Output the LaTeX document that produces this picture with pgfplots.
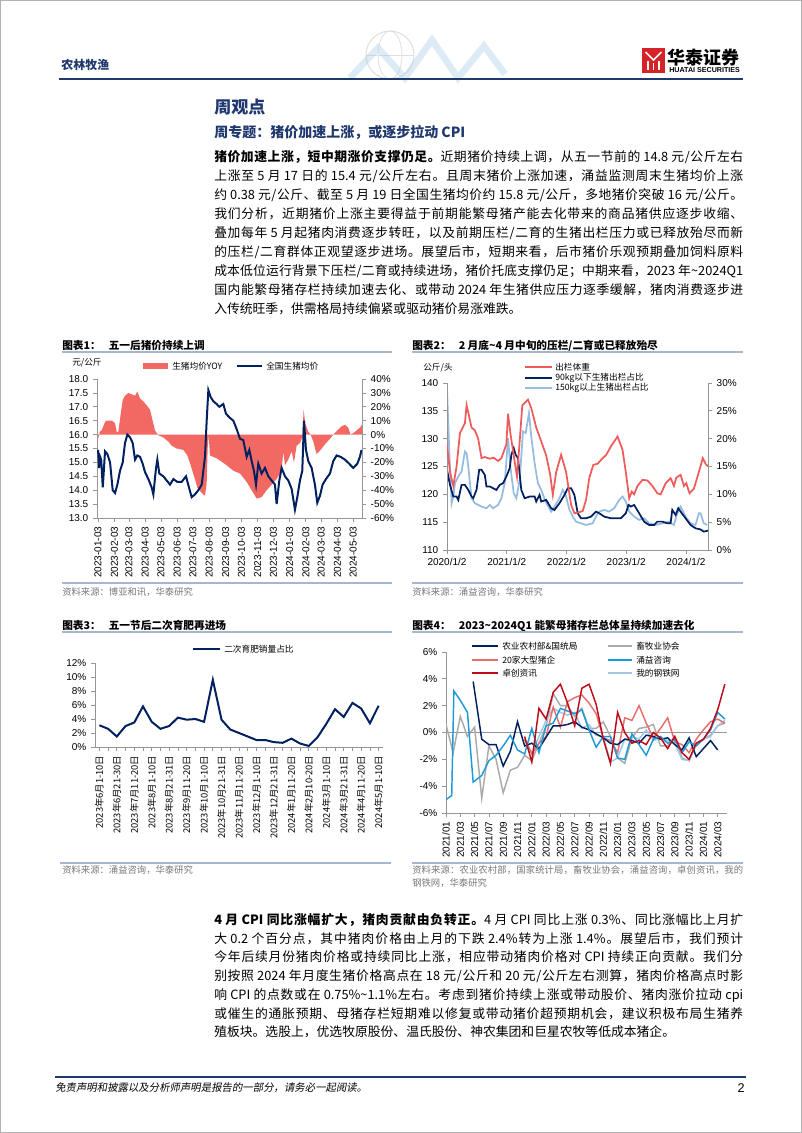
\documentclass[border=0pt]{standalone}
\usepackage{fontspec}
\usepackage{graphicx}
\usepackage{pgfplots}
\pgfplotsset{compat=1.18}
\setmainfont{Noto Sans CJK SC}
\newfontfamily\arial{Liberation Sans}
\newfontfamily\slcjk{Noto Sans CJK SC}[FakeSlant=0.18]

\definecolor{navy}{RGB}{0,32,96}
\definecolor{hdrblue}{RGB}{31,56,110}
\definecolor{axgray}{RGB}{150,150,150}
\definecolor{yoyred}{RGB}{242,105,100}
\definecolor{c2red}{RGB}{240,90,90}
\definecolor{c2lb}{RGB}{150,188,225}
\definecolor{c4gray}{RGB}{170,170,170}
\definecolor{c4salmon}{RGB}{232,110,110}
\definecolor{c4blue}{RGB}{30,155,215}
\definecolor{c4dred}{RGB}{190,10,25}
\definecolor{c4lb}{RGB}{160,200,230}
\definecolor{ulblue}{RGB}{165,182,205}
\definecolor{srcgray}{RGB}{120,120,120}
\definecolor{logored}{RGB}{215,35,40}

% inter-character glue for CJK justification
\newXeTeXintercharclass\CJKc
\newcount\cc
\cc="2E80
\loop \XeTeXcharclass\cc=\CJKc \advance\cc by 1 \ifnum\cc<"A000 \repeat
\cc="FF00
\loop \XeTeXcharclass\cc=\CJKc \advance\cc by 1 \ifnum\cc<"FFF0 \repeat
\XeTeXinterchartoks\CJKc\CJKc={\hskip0pt plus 2pt\relax}
\XeTeXinterchartoks\CJKc 0={\hskip0pt plus 2pt\relax}
\XeTeXinterchartoks 0\CJKc={\hskip0pt plus 2pt\relax}

\newcommand\bodyfont{\fontsize{9.6}{11}\selectfont}
\newcommand\lgfont{\fontsize{6.5}{7}\selectfont}
\newcommand\srcfont{\fontsize{7}{8}\selectfont}
\newcommand\ttlfont{\fontsize{8}{9}\selectfont\bfseries}
\newcommand\JL[2]{\node[anchor=base west,inner sep=0pt,font=\bodyfont] at (214,#1) {\hbox to 396.75pt{\XeTeXinterchartokenstate=1 #2}};}
\newcommand\NL[2]{\node[anchor=base west,inner sep=0pt,font=\bodyfont] at (214,#1) {\hbox{#2}};}

\pgfplotsset{
  base/.style={scale only axis, anchor=north west,
    axis line style={axgray, line width=0.6pt},
    tick style={axgray, line width=0.6pt},
    tick align=outside, major tick length=3pt,
    tick label style={font=\arial\fontsize{7.5}{8}\selectfont},
    /pgf/number format/assume math mode=true},
}

\begin{document}
\begin{tikzpicture}
\begin{scope}[x=0.75pt,y=-0.75pt]
\path[use as bounding box] (0,0) rectangle (802,1133);
\fill[white] (0,0) rectangle (802,1133);
\draw[gray!60, line width=1pt] (0.6,0.6) rectangle (801.4,1132.4);

% ---------- header ----------
\draw[gray!25, line width=0.8pt] (390,55) circle (24);
\draw[gray!25, line width=0.6pt] (390,55) ellipse (12 and 24);
\draw[gray!25, line width=0.6pt] (366,55) -- (414,55);
\draw[c4lb, line width=5pt, opacity=0.35] (350,78) -- (378,48) -- (405,78) -- (432,40) -- (458,78) -- (484,46) -- (505,74);
\node[anchor=west,inner sep=0pt,font=\fontsize{9}{10}\selectfont\bfseries,text=hdrblue] at (61,65) {农林牧渔};
\fill[logored] (642,48) rectangle (665,73);
\draw[white, line width=1.3pt] (645.5,52) -- (653.5,60) -- (661.5,52);
\draw[white, line width=1.3pt] (648,61) -- (648,70) (653.5,63) -- (653.5,70) (659,61) -- (659,70);
\node[anchor=west,inner sep=0pt,font=\fontsize{13.5}{14}\selectfont\bfseries] at (667,57.5) {华泰证券};
\node[anchor=west,inner sep=0pt] at (669,70.5) {\resizebox{53pt}{!}{\arial\bfseries HUATAI SECURITIES}};
\draw[hdrblue, line width=2pt] (59,79) -- (743,79);

\node[anchor=base west,inner sep=0pt,font=\fontsize{12.75}{14}\selectfont\bfseries,text=hdrblue] at (214,113) {周观点};
\node[anchor=base west,inner sep=0pt,font=\fontsize{10.5}{12}\selectfont\bfseries,text=hdrblue] at (214,137.5) {周专题：猪价加速上涨，或逐步拉动 CPI};

% ---------- paragraph 1 ----------
\JL{161.5}{{\bfseries 猪价加速上涨，短中期涨价支撑仍足。}近期猪价持续上调，从五一节前的 14.8 元/公斤左右}
\JL{180.5}{上涨至 5 月 17 日的 15.4 元/公斤左右。且周末猪价上涨加速，涌益监测周末生猪均价上涨}
\JL{199.5}{约 0.38 元/公斤、截至 5 月 19 日全国生猪均价约 15.8 元/公斤，多地猪价突破 16 元/公斤。}
\JL{218.5}{我们分析，近期猪价上涨主要得益于前期能繁母猪产能去化带来的商品猪供应逐步收缩、}
\JL{237.5}{叠加每年 5 月起猪肉消费逐步转旺，以及前期压栏/二育的生猪出栏压力或已释放殆尽而新}
\JL{256.5}{的压栏/二育群体正观望逐步进场。展望后市，短期来看，后市猪价乐观预期叠加饲料原料}
\JL{275.5}{成本低位运行背景下压栏/二育或持续进场，猪价托底支撑仍足；中期来看，2023 年\textasciitilde 2024Q1}
\JL{294.5}{国内能繁母猪存栏持续加速去化、或带动 2024 年生猪供应压力逐季缓解，猪肉消费逐步进}
\NL{313.5}{入传统旺季，供需格局持续偏紧或驱动猪价易涨难跌。}

% ---------- chart titles and decorations ----------
\node[anchor=base west,inner sep=0pt,font=\ttlfont] at (62,349.5) {图表1：\hspace{6pt}五一后猪价持续上调};
\draw[ulblue, line width=1.2pt] (62,352) -- (392,352);
\node[anchor=base west,inner sep=0pt,font=\ttlfont] at (412,349.5) {图表2：\hspace{6pt}2 月底\textasciitilde 4 月中旬的压栏/二育或已释放殆尽};
\draw[ulblue, line width=1.2pt] (412,352) -- (743,352);
\node[anchor=base west,inner sep=0pt,font=\ttlfont] at (62,629) {图表3：\hspace{6pt}五一节后二次育肥再进场};
\draw[ulblue, line width=1.2pt] (62,632) -- (392,632);
\node[anchor=base west,inner sep=0pt,font=\ttlfont] at (412,629) {图表4：\hspace{6pt}2023\textasciitilde 2024Q1 能繁母猪存栏总体呈持续加速去化};
\draw[ulblue, line width=1.2pt] (412,632) -- (743,632);

% chart 1 legend
\node[anchor=west,inner sep=0pt,font=\lgfont] at (72,363) {元/公斤};
\fill[yoyred] (143,363) rectangle (168,369);
\node[anchor=west,inner sep=0pt,font=\lgfont] at (172,366) {生猪均价YOY};
\draw[navy, line width=1.5pt] (237,366) -- (262,366);
\node[anchor=west,inner sep=0pt,font=\lgfont] at (266,366) {全国生猪均价};
% chart 2 legend
\node[anchor=west,inner sep=0pt,font=\lgfont] at (423,368) {公斤/头};
\draw[c2red, line width=1.3pt] (525,366.7) -- (552,366.7);
\node[anchor=west,inner sep=0pt,font=\lgfont] at (555,366.7) {出栏体重};
\draw[navy, line width=1.3pt] (525,377.7) -- (552,377.7);
\node[anchor=west,inner sep=0pt,font=\lgfont] at (555,377.7) {90kg以下生猪出栏占比};
\draw[c2lb, line width=1.3pt] (525,388.3) -- (552,388.3);
\node[anchor=west,inner sep=0pt,font=\lgfont] at (555,388.3) {150kg以上生猪出栏占比};
% chart 3 legend
\draw[navy, line width=1.5pt] (193,649) -- (220,649);
\node[anchor=west,inner sep=0pt,font=\lgfont] at (224,649) {二次育肥销量占比};
% chart 4 legend
\draw[navy, line width=1.2pt] (472,646) -- (498,646);
\node[anchor=west,inner sep=0pt,font=\lgfont] at (502,646) {农业农村部\&国统局};
\draw[c4gray, line width=1.2pt] (608,646) -- (632,646);
\node[anchor=west,inner sep=0pt,font=\lgfont] at (636,646) {畜牧业协会};
\draw[c4salmon, line width=1.2pt] (472,660) -- (498,660);
\node[anchor=west,inner sep=0pt,font=\lgfont] at (502,660) {20家大型猪企};
\draw[c4blue, line width=1.2pt] (608,660) -- (632,660);
\node[anchor=west,inner sep=0pt,font=\lgfont] at (636,660) {涌益咨询};
\draw[c4dred, line width=1.2pt] (472,673) -- (498,673);
\node[anchor=west,inner sep=0pt,font=\lgfont] at (502,673) {卓创资讯};
\draw[c4lb, line width=1.2pt] (608,673) -- (632,673);
\node[anchor=west,inner sep=0pt,font=\lgfont] at (636,673) {我的钢铁网};

% sources
\draw[ulblue, line width=1.2pt] (62,583) -- (392,583);
\node[anchor=base west,inner sep=0pt,font=\srcfont,text=srcgray] at (62,595) {资料来源：博亚和讯，华泰研究};
\draw[ulblue, line width=1.2pt] (412,583) -- (743,583);
\node[anchor=base west,inner sep=0pt,font=\srcfont,text=srcgray] at (412,595) {资料来源：涌益咨询，华泰研究};
\draw[ulblue, line width=1.2pt] (60,863) -- (391,863);
\node[anchor=base west,inner sep=0pt,font=\srcfont,text=srcgray] at (62,873.3) {资料来源：涌益咨询，华泰研究};
\draw[ulblue, line width=1.2pt] (412,863) -- (743,863);
\node[anchor=base west,inner sep=0pt,font=\srcfont,text=srcgray] at (412,873.3) {\hbox to 248.25pt{\XeTeXinterchartokenstate=1 资料来源：农业农村部，国家统计局，畜牧业协会，涌益咨询，卓创资讯，我的}};
\node[anchor=base west,inner sep=0pt,font=\srcfont,text=srcgray] at (412,886.3) {钢铁网，华泰研究};

% ---------- paragraph 2 ----------
\JL{924.5}{{\bfseries 4 月 CPI 同比涨幅扩大，猪肉贡献由负转正。}4 月 CPI 同比上涨 0.3\%、同比涨幅比上月扩}
\JL{943.2}{大 0.2 个百分点，其中猪肉价格由上月的下跌 2.4\%转为上涨 1.4\%。展望后市，我们预计}
\JL{961.9}{今年后续月份猪肉价格或持续同比上涨，相应带动猪肉价格对 CPI 持续正向贡献。我们分}
\JL{980.6}{别按照 2024 年月度生猪价格高点在 18 元/公斤和 20 元/公斤左右测算，猪肉价格高点时影}
\JL{999.3}{响 CPI 的点数或在 0.75\%\textasciitilde 1.1\%左右。考虑到猪价持续上涨或带动股价、猪肉涨价拉动 cpi}
\JL{1018}{或催生的通胀预期、母猪存栏短期难以修复或带动猪价超预期机会，建议积极布局生猪养}
\NL{1036.7}{殖板块。选股上，优选牧原股份、温氏股份、神农集团和巨星农牧等低成本猪企。}

% footer
\draw[hdrblue, line width=2pt] (55,1077) -- (746,1077);
\node[anchor=base west,inner sep=0pt,font=\slcjk\fontsize{7.8}{9}\selectfont] at (55,1091) {免责声明和披露以及分析师声明是报告的一部分，请务必一起阅读。};
\node[anchor=base east,inner sep=0pt,font=\arial\fontsize{9.5}{10}\selectfont] at (745,1092) {2};
\end{scope}

% ================= Chart 1 =================
\begin{axis}[base, at={(72.75pt,-284.25pt)}, width=198.75pt, height=104.25pt,
  xmin=-2, xmax=503, ymin=-60, ymax=40, axis y line*=right, axis x line=none,
  ytick={-60,-50,...,40}, yticklabel={\pgfmathprintnumber{\tick}\%}]
\addplot[fill=yoyred, draw=none] table {
0 0
1 -3
3 2
6.7 3
10 6
13.3 9
16 10
19.7 10
26 10
30 9
32.4 8
35.6 2
38.7 2
43.2 15
47.0 25
51.4 28
57.8 30
64.1 29
70.5 28
74.9 31
80 26
86.3 24
92.7 21
99 18
104 10
108.6 3
113 0.5
115 -0.5
124.4 -2
134 -5
140.3 -8
149.8 -10
162.5 -11
170.2 -15
176.5 -22
182.9 -30
189.2 -38
197.5 -42
203.8 -44
207 -35
208.9 -10
210.8 0
213.3 -15
226 -17
245 -22
257.8 -26
270.5 -28
283.2 -34
292.7 -40
302.2 -46
311.7 -45
321.3 -40
330.8 -36
340.3 -32
349.8 -26
353 -12
356.2 -22
362.5 -18
368.9 -12
373.3 -20
378.4 -8
384.8 -6
389.2 -2
391.7 18
394.9 8
400.6 2
405.1 0
410.2 -5
416.5 -14
424.1 -11
432.4 -7
441.9 -3
448.3 0
455.9 3
464.1 6
470.5 7
476.8 5
481.3 0
486.3 1
492.7 3
499 5
502.8 7
} \closedcycle;
\end{axis}
\begin{axis}[base, at={(72.75pt,-284.25pt)}, width=198.75pt, height=104.25pt,
  xmin=-2, xmax=503, ymin=13, ymax=18, axis y line*=left, axis x line*=bottom,
  ytick={13,13.5,...,18},
  yticklabel style={/pgf/number format/.cd, fixed, fixed zerofill, precision=1},
  xtick={0,31,59,90,120,151,181,212,243,273,304,334,365,396,425,456,486},
  xticklabels={2023-01-03,2023-02-03,2023-03-03,2023-04-03,2023-05-03,2023-06-03,2023-07-03,2023-08-03,2023-09-03,2023-10-03,2023-11-03,2023-12-03,2024-01-03,2024-02-03,2024-03-03,2024-04-03,2024-05-03},
  xticklabel style={rotate=90, anchor=east}]
\addplot[navy, line width=1.5pt] table {
0 15.45
2 14.8
4 15.2
6 15.1
9 14.1
13.3 15.4
17.8 15.3
22.9 15.0
27.9 14.0
32.4 13.9
36.8 14.2
41.9 14.7
47.0 15.0
51.4 15.7
55.9 16.0
61.0 15.9
66.0 15.7
70.5 15.1
74.9 15.25
80.0 15.2
85.1 14.95
89.5 14.65
95.9 14.4
102.2 14.1
105.4 13.85
110.5 14.8
113.0 15.1
116.8 14.6
124.4 14.5
130.8 14.35
137.1 14.2
143.5 14.4
151.1 14.3
159.4 14.3
167.6 14.5
174.0 14.05
178.4 13.75
184.8 13.85
191.1 14.0
197.5 14.2
203.8 15.2
207.0 16.5
210.2 17.6
214.6 17.35
219.7 17.2
226.0 17.1
231.1 17.0
238.7 17.1
243.8 16.75
251.4 16.6
257.8 16.5
264.1 16.2
270.5 15.85
276.8 15.8
283.2 15.2
288.3 15.45
292.7 15.05
297.1 14.7
301.0 14.2
305.4 14.95
311.7 14.6
318.1 14.8
324.4 14.5
330.8 14.35
337.1 14.2
340.3 13.5
345.4 14.35
349.8 14.8
356.2 14.5
362.5 14.35
368.9 14.05
375.2 13.3
379.7 13.75
384.8 14.35
389.2 14.7
392.4 16.5
396.2 15.45
400.6 15.05
407.0 14.8
413.3 14.2
417.8 13.55
422.9 13.8
427.9 14.2
434.3 14.4
441.9 14.6
448.3 15.05
454.6 15.25
462.2 15.2
470.5 15.1
478.7 14.95
486.3 14.8
494.0 14.95
499.0 15.2
502.2 15.45
};
\end{axis}

% ================= Chart 2 =================
\begin{axis}[base, at={(335.25pt,-287.25pt)}, width=195.75pt, height=125.25pt,
  xmin=0, xmax=4.37, ymin=0, ymax=30, axis y line*=right, axis x line=none,
  ytick={0,5,...,30}, yticklabel={\pgfmathprintnumber{\tick}\%}]
\addplot[c2lb, line width=1.3pt] table {
0 29
0.039 17.4
0.078 8.4
0.106 9.6
0.133 12
0.189 13.2
0.244 14.1
0.3 17.7
0.328 17.4
0.356 15
0.411 9.3
0.467 8.4
0.522 8.1
0.578 7.8
0.661 7.5
0.717 8.1
0.772 7.5
0.856 8.1
0.911 9.3
0.967 12.0
1.022 20.1
1.061 15.0
1.117 10.2
1.161 9.3
1.217 12.6
1.272 21.3
1.317 21
1.372 24.6
1.411 20.4
1.467 15.6
1.522 12.0
1.578 10.8
1.65 8.7
1.744 6.9
1.8 7.8
1.883 9.3
1.939 10.8
1.994 9.6
2.05 7.2
2.106 6.0
2.161 5.1
2.244 4.8
2.328 4.5
2.439 4.8
2.494 6.0
2.55 6.9
2.633 7.2
2.717 6.9
2.8 7.5
2.883 9.0
2.939 9.6
2.994 8.7
3.05 6.9
3.133 6.0
3.217 5.4
3.3 5.7
3.383 4.8
3.494 4.5
3.606 4.8
3.717 5.1
3.8 4.5
3.856 6.6
3.911 7.8
3.939 7.2
3.994 6.0
4.078 4.8
4.161 4.5
4.217 6.6
4.244 6.6
4.3 4.8
4.356 4.5
};
\addplot[navy, line width=1.3pt] table {
0 14.4
0.05 11.7
0.106 9.6
0.161 9.6
0.189 9.0
0.244 11.7
0.3 11.7
0.356 10.8
0.411 9.6
0.439 9.3
0.494 10.8
0.539 14.4
0.578 14.4
0.633 13.5
0.661 11.4
0.717 11.4
0.772 11.1
0.828 10.8
0.883 11.7
0.939 12.0
0.994 13.2
1.05 14.7
1.078 17.1
1.117 18.3
1.15 17.1
1.189 16.5
1.244 10.8
1.3 9.3
1.383 9.6
1.467 9.6
1.494 8.7
1.55 9.9
1.578 8.7
1.661 9.0
1.744 7.5
1.8 7.2
1.883 8.4
1.967 9.9
2.022 11.1
2.078 11.1
2.133 9.9
2.189 6.6
2.244 5.7
2.328 5.7
2.411 6.0
2.494 6.9
2.55 6.6
2.633 6.0
2.744 5.7
2.828 5.7
2.911 5.7
2.994 6.6
3.039 8.1
3.078 7.8
3.133 8.1
3.217 6.6
3.3 5.1
3.383 4.5
3.467 4.5
3.522 5.1
3.606 5.1
3.689 4.8
3.744 4.8
3.772 7.2
3.828 6.3
3.872 7.5
3.911 6.9
3.994 5.7
4.078 4.5
4.161 3.9
4.244 3.7
4.3 3.3
4.372 3.5
};
\end{axis}
\begin{axis}[base, at={(335.25pt,-287.25pt)}, width=195.75pt, height=125.25pt,
  xmin=0, xmax=4.37, ymin=110, ymax=140, axis y line*=left, axis x line*=bottom,
  ytick={110,115,...,140}, xtick={0,1,2,3,4},
  xticklabels={2020/1/2,2021/1/2,2022/1/2,2023/1/2,2024/1/2}]
\addplot[c2red, line width=1.3pt] table {
0 128.9
0.05 124
0.106 121.5
0.16 125
0.217 131
0.3 132.8
0.328 136.0
0.36 134.5
0.411 132
0.467 131.5
0.522 130
0.578 126.5
0.633 126.7
0.717 126.4
0.78 126.6
0.828 126.2
0.856 126.0
0.911 126.5
0.994 129
1.022 134.5
1.061 131
1.117 127
1.172 123.2
1.22 130
1.261 136
1.356 137
1.411 135.5
1.494 132
1.578 129.5
1.661 127
1.728 123.5
1.772 119.9
1.828 124
1.911 127.1
1.994 124
2.078 118.1
2.133 116.6
2.217 116.8
2.272 117
2.328 119
2.383 123
2.45 125.3
2.522 125.5
2.606 126.5
2.661 127
2.744 128.6
2.856 130.4
2.939 128
2.994 124
3.05 119.3
3.094 120.5
3.133 120
3.189 121.5
3.272 122.6
3.356 122.5
3.439 121.5
3.522 120.2
3.578 120
3.661 122
3.744 122.9
3.8 121.5
3.839 123
3.911 123.5
3.967 121.5
4.006 122
4.061 120.2
4.133 121
4.217 124
4.283 126.5
4.328 125.5
4.37 125
};
\end{axis}

% ================= Chart 3 =================
\begin{axis}[base, at={(71.25pt,-497.25pt)}, width=216pt, height=63pt,
  xmin=-0.5, xmax=32.5, ymin=0, ymax=12, axis y line*=left, axis x line*=bottom,
  ytick={0,2,...,12}, yticklabel={\pgfmathprintnumber{\tick}\%},
  xtick={0,1,...,32},
  xticklabels={{2023年6月1-10日},{},{2023年6月21-30日},{},{2023年7月11-20日},{},{2023年8月1-10日},{},{2023年8月21-31日},{},{2023年9月11-20日},{},{2023年10月1-10日},{},{2023年10月21-31日},{},{2023年11月11-20日},{},{2023年12月1-10日},{},{2023年12月21-31日},{},{2024年1月11-20日},{},{2024年2月10-20日},{},{2024年3月1-10日},{},{2024年3月21-31日},{},{2024年4月11-20日},{},{2024年5月1-10日}},
  xticklabel style={rotate=90, anchor=east, font=\fontsize{7}{8}\selectfont}]
\addplot[navy, line width=1.5pt] table {
0 3.1
1 2.6
2 1.5
3 3.0
4 3.5
5 5.8
6 3.6
7 2.6
8 3.0
9 4.2
10 3.9
11 4.0
12 3.6
13 9.6
14 3.9
15 2.5
16 2.0
17 1.5
18 1.0
19 1.0
20 0.7
21 0.6
22 1.2
23 0.5
24 0.15
25 1.4
26 3.3
27 5.4
28 4.3
29 6.3
30 5.5
31 3.4
32 5.9
};
\end{axis}

% ================= Chart 4 =================
\begin{axis}[base, at={(334.5pt,-489pt)}, width=210.75pt, height=120.75pt,
  xmin=0, xmax=39.3, ymin=-6, ymax=6, axis y line*=left, axis x line*=bottom,
  ytick={-6,-4,...,6}, yticklabel={\pgfmathprintnumber{\tick}\%},
  extra y ticks={0}, extra y tick labels={}, extra y tick style={major tick length=0pt, grid=major, major grid style={axgray, line width=0.6pt}},
  xtick={0,2,...,38},
  xticklabels={2021/01,2021/03,2021/05,2021/07,2021/09,2021/11,2022/01,2022/03,2022/05,2022/07,2022/09,2022/11,2023/01,2023/03,2023/05,2023/07,2023/09,2023/11,2024/01,2024/03},
  xticklabel style={rotate=90, anchor=east}]
\addplot[c4gray, line width=1.1pt] table {
0 0.6
1 -1.5
2 1.2
3 -0.3
4 0.4
5 -4.9
6 -1.0
7 -2.0
8 -4.5
9 -2.8
10 -2.6
11 -1.7
12 -2.1
13 -0.8
14 0.5
15 2.9
16 2.0
17 2.0
18 1.2
19 1.8
20 0.3
21 0.3
22 0.8
23 -0.3
24 -1.9
25 -2.3
26 -0.4
27 0.3
28 0.4
29 0.6
30 -1.0
31 -1.0
32 -0.3
33 -1.9
34 -2.1
35 -0.9
36 -0.5
37 -0.2
38 0.5
39 0.7
};
\addplot[c4lb, line width=1.1pt] table {
11 -0.5
12 -1.5
13 -0.3
14 0.9
15 1.8
16 1.5
17 1.3
18 1.5
19 0.3
20 0.6
21 -0.2
22 -0.3
23 -2.2
24 -1.9
25 -0.5
26 -0.3
27 -0.5
28 0.2
29 -0.6
30 -0.4
31 -0.6
32 -0.8
33 -2.0
34 -2.1
35 -0.8
36 -0.5
37 -0.3
38 0.5
39 0.9
};
\addplot[c4salmon, line width=1.1pt] table {
11 -0.5
12 -1.6
13 -0.8
14 -0.3
15 1.9
16 0.4
17 2.3
18 2.6
19 2.8
20 2.2
21 1.4
22 -0.4
23 -0.6
24 -1.5
25 1.1
26 0.9
27 2.0
28 0.7
29 -0.4
30 0.3
31 1.1
32 -0.7
33 -0.9
34 -1.5
35 -0.5
36 0.2
37 0.8
38 1.0
39 0.7
};
\addplot[navy, line width=1.1pt] table {
3.8 3.8
5 -0.5
6 -0.9
7 -0.9
8 -2.5
9 -1.4
10 0.8
11 -1.0
12 -0.8
13 -1.2
15 0.5
16 0.5
17 0.6
18 0.8
19 0.4
20 0.2
21 -0.1
22 -0.4
23 -0.8
24 -0.9
25 -0.5
26 -0.6
27 -0.8
28 -0.2
29 -0.3
30 -0.5
31 -0.4
32 -0.9
33 -1.3
34 -0.4
35 -1.8
36 -1.2
37 -0.6
38 -1.3
};
\addplot[c4blue, line width=1.1pt] table {
0 -5.0
0.8 -4.7
1.1 3.1
2 2.4
3 1.5
3.8 -3.7
5 -3.2
6 -2.1
7 -1.7
8 -1.0
9 -0.2
10 -1.3
11 -1.6
12 0.3
13 -1.5
14 0.5
15 0.7
16 1.8
17 1.6
18 1.4
19 1.7
20 0.2
21 -1.1
22 -0.3
23 -0.3
24 -1.9
25 -2.0
26 -0.1
27 -0.9
28 -1.7
29 -0.5
30 -0.3
31 -0.8
32 -0.5
33 -1.5
34 -0.7
35 -1.0
36 -0.5
37 0.2
38 1.5
39 1.0
};
\addplot[c4dred, line width=1.1pt] table {
11 -0.3
12 -2.2
13 1.8
14 1.0
15 3.0
16 3.6
17 2.2
18 0.5
19 3.3
20 3.6
21 2.1
22 -0.5
23 -2.3
24 1.5
25 0.0
26 -0.8
27 -0.6
28 -0.9
29 0.0
30 -0.4
31 -1.2
32 -0.3
33 -1.5
34 -2.0
35 -0.8
36 -0.5
37 0.3
38 1.7
39 3.6
};
\end{axis}
\end{tikzpicture}
\end{document}
